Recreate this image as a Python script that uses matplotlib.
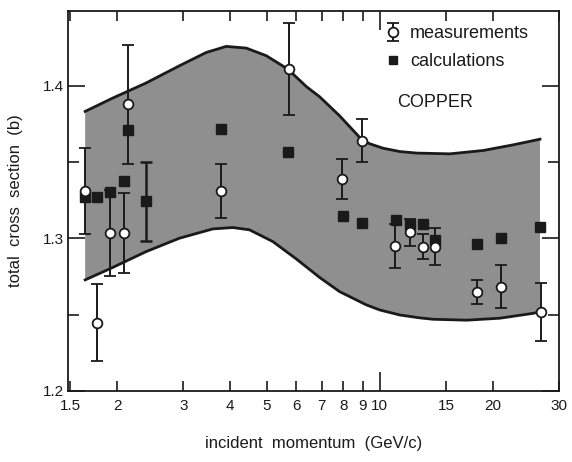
import numpy as np
import matplotlib
matplotlib.use("Agg")
import matplotlib.pyplot as plt
from matplotlib.lines import Line2D
from matplotlib.ticker import FixedLocator, FixedFormatter

plt.rcParams['font.family'] = ['Liberation Sans', 'DejaVu Sans']

# band edges
upper_x = [1.644, 1.945, 2.387, 2.929, 3.451, 3.902, 4.411, 4.988, 5.694, 6.375,
           6.918, 7.82, 8.94, 9.404, 10.2, 11.31, 12.53, 15.37, 18.86, 22.67, 26.7]
upper_y = [1.3832, 1.3919, 1.4018, 1.4131, 1.4218, 1.4258, 1.4247, 1.4197, 1.4109, 1.3995,
           1.3928, 1.3803, 1.3649, 1.3620, 1.3591, 1.3569, 1.3559, 1.3554, 1.3576, 1.3613, 1.3650]
lower_x = [1.644, 1.945, 2.387, 2.929, 3.594, 4.063, 4.501, 5.194, 5.997, 6.918,
           7.82, 9.215, 10.0, 11.31, 12.79, 13.87, 17.03, 20.89, 25.63, 26.7]
lower_y = [1.2728, 1.2809, 1.2913, 1.3001, 1.3062, 1.3071, 1.3056, 1.2979, 1.2865, 1.2744,
           1.2651, 1.2564, 1.2531, 1.2498, 1.2479, 1.2470, 1.2464, 1.2477, 1.2509, 1.2520]

# measurements (open circles)
meas_x = [1.64, 1.766, 1.916, 2.088, 2.14, 3.79, 5.72, 7.95, 8.95,
          11.0, 12.0, 13.05, 14.0, 18.1, 21.0, 26.9]
meas_y = [1.3311, 1.2448, 1.3035, 1.3035, 1.388, 1.3311, 1.411, 1.339, 1.364,
          1.2951, 1.304, 1.2946, 1.2946, 1.2647, 1.2684, 1.252]
meas_err = [0.028, 0.025, 0.028, 0.026, 0.039, 0.0175, 0.030, 0.013, 0.014,
            0.0145, 0.009, 0.008, 0.012, 0.008, 0.014, 0.019]

# calculations (filled squares), only one carries an error bar
calc_x = [1.64, 1.766, 1.916, 2.09, 2.14, 2.39, 3.78, 5.7, 7.98, 8.99,
          11.03, 12.0, 13.05, 14.0, 18.1, 21.0, 26.7]
calc_y = [1.327, 1.327, 1.3307, 1.3373, 1.371, 1.3243, 1.3715, 1.3566, 1.3148, 1.3104,
          1.3121, 1.3095, 1.3093, 1.299, 1.2962, 1.3005, 1.3073]
calc_err = [0, 0, 0, 0, 0, 0.026, 0, 0, 0, 0,
            0, 0, 0, 0, 0, 0, 0]

x_ticks = [1.5, 2, 3, 4, 5, 6, 7, 8, 9, 15, 20, 30]
x_labels = ['1.5', '2', '3', '4', '5', '6', '7', '8', '9', '15', '20', '30']

ink = '#1a1a1a'

fig = plt.figure(figsize=(5.72, 4.62), dpi=100)
ax = fig.add_axes([0.1189, 0.1537, 0.8584, 0.8225])

# grey band
band_x = upper_x + lower_x[::-1]
band_y = upper_y + lower_y[::-1]
ax.fill(band_x, band_y, color='#8f8f8f', lw=0, zorder=1)
ax.plot(upper_x, upper_y, color=ink, lw=2.0, zorder=2, solid_joinstyle='round')
ax.plot(lower_x, lower_y, color=ink, lw=2.0, zorder=2, solid_joinstyle='round')

# calculations
ax.plot(calc_x, calc_y, 's', color=ink, ms=7, zorder=3)
cx = [x for x, e in zip(calc_x, calc_err) if e > 0]
cy = [y for y, e in zip(calc_y, calc_err) if e > 0]
ce = [e for e in calc_err if e > 0]
ax.errorbar(cx, cy, yerr=ce, fmt='none', ecolor=ink, elinewidth=1.8, capsize=4,
            capthick=1.8, zorder=3)

meas = ax.errorbar(meas_x, meas_y, yerr=meas_err, fmt='o', mfc='white', mec=ink,
                   mew=1.3, ms=7, ecolor=ink, elinewidth=1.4, capsize=4,
                   capthick=1.4, zorder=4, label='measurements')

ax.set_xscale('log')
ax.set_xlim(1.48, 30)
ax.set_ylim(1.2, 1.449)

ax.xaxis.set_major_locator(FixedLocator([10]))
ax.xaxis.set_major_formatter(FixedFormatter(['10']))
ax.xaxis.set_minor_locator(FixedLocator(x_ticks))
ax.xaxis.set_minor_formatter(FixedFormatter(x_labels))
ax.set_yticks([1.2, 1.3, 1.4])
ax.set_yticklabels(['1.2', '1.3', '1.4'])
ax.set_yticks([1.25, 1.35], minor=True)

ax.tick_params(which='both', direction='in', top=True, right=True, colors=ink,
               labelsize=11, width=1.2)
ax.tick_params(axis='x', which='major', length=14, pad=6)
ax.tick_params(axis='x', which='minor', length=7, pad=6)
ax.tick_params(axis='y', which='major', length=12, pad=3)
ax.tick_params(axis='y', which='minor', length=8)
for s in ax.spines.values():
    s.set_color(ink)
    s.set_linewidth(1.3)

ax.set_xlabel('incident  momentum  (GeV/c)', fontsize=12, color=ink, labelpad=16)
ax.set_ylabel('total  cross  section  (b)', fontsize=12, color=ink, labelpad=14)

ax.text(0.7485, 0.758, 'COPPER', transform=ax.transAxes, fontsize=13, color=ink,
        ha='center', va='center')

calc_handle = Line2D([], [], ls='none', marker='s', color=ink, ms=6)
leg = ax.legend(handles=[meas, calc_handle], labels=['measurements', 'calculations'],
                loc='upper right', bbox_to_anchor=(0.972, 1.005),
                frameon=False, fontsize=13, handlelength=0.9, handletextpad=0.5,
                labelspacing=0.6)
for t in leg.get_texts():
    t.set_color(ink)

fig.savefig('out.png', dpi=100)
